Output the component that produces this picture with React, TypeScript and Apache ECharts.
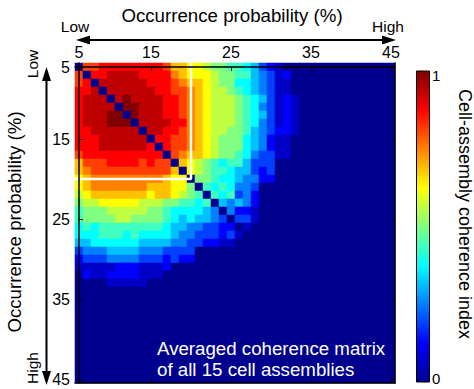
import React, { useEffect, useRef } from "react";
import * as echarts from "echarts";

// 40 x 40 averaged coherence matrix.
// Each character is a level 0..G (0..16), value = level / 16.
// Columns beyond those written are 0 (navy).
const matrixRows: string[] = [
  "0DDEEEEEEEEDBBAA988776532100",
  "D0EEFFFFEEEECBAAA98877543120",
  "DE0FFFFFFEEEDCBBA98866543110",
  "EEF0FFFFFFEEDDCBA99876543110",
  "EFFF0FGFFFFEEDCBA99987653121",
  "EFFFF0GGFFFEEDCBA99987643121",
  "EFFFGG0GFFFEEDCBA99987653121",
  "EFFFGGG0FFFFEECBA99987643121",
  "EEFFFFFF0FFEEDCBA99887543221",
  "EEEFFFFFF0EEDDCBA98886542110",
  "EEEFFFFFFE0EDDCBA98886542110",
  "DEEEEEEEEEE0DCBBA98876433110",
  "BDDDEEEEDEDD0BA9876775333000",
  "BCDDDDDDDDDDB0A9877655323000",
  "ABCCCCCCCCCBAA08876654422000",
  "ABCCCCCCCBBBAA80767644300000",
  "9ABBBBBBBABBA987076734200000",
  "899AAAAA999887767054542000000",
  "7888999998876666540422100000",
  "7888899888876565543033100000",
  "6767777777765544332201000000",
  "6667776766665443332310000000",
  "5566666655554433221100000000",
  "3444555544433330000000000000",
  "2333444433323220000000000000",
  "1111122211120000000000000000",
  "0211222211100000000000000000",
  "0000111110000000000000000000",
  "0",
  "0",
  "0",
  "0",
  "0",
  "0",
  "0",
  "0",
  "0",
  "0",
  "0",
  "0",
];

const categories: string[] = [
  "5", "6", "7", "8", "9", "10", "11", "12", "13", "14",
  "15", "16", "17", "18", "19", "20", "21", "22", "23", "24",
  "25", "26", "27", "28", "29", "30", "31", "32", "33", "34",
  "35", "36", "37", "38", "39", "40", "41", "42", "43", "45",
];
const tickIndices = [0, 9, 19, 29, 39];
const tickLabels = ["5", "15", "25", "35", "45"];

// white boundary of the first assembly block (column/row index 14)
const boundaryLine: [number, number][] = [
  [14, -0.5],
  [14, 14],
  [-0.5, 14],
];

const jetColors = [
  "#00008F",
  "#0000FF",
  "#0080FF",
  "#00FFFF",
  "#80FF80",
  "#FFFF00",
  "#FF8000",
  "#FF0000",
  "#800000",
];

const FONT = "'Liberation Sans', Arial, sans-serif";

function levelOf(ch: string): number {
  return parseInt(ch, 17);
}

export default function App() {
  const ref = useRef<HTMLDivElement>(null);

  useEffect(() => {
    if (!ref.current) return;
    const chart = echarts.init(ref.current, null, { renderer: "svg" });

    const data: [number, number, number][] = [];
    for (let r = 0; r < categories.length; r++) {
      const row = matrixRows[r].padEnd(categories.length, "0");
      for (let c = 0; c < categories.length; c++) {
        data.push([c, r, levelOf(row[c]) / 16]);
      }
    }

    const showTick = (i: number) => tickIndices.includes(i);
    const labelFmt = (_v: string, i: number) => tickLabels[tickIndices.indexOf(i)] ?? "";

    const baseCat = {
      type: "category" as const,
      data: categories,
      z: 10,
      axisLine: { show: true, lineStyle: { color: "#000", width: 1.5 } },
      axisTick: {
        show: true,
        inside: true,
        length: 4,
        alignWithLabel: true,
        interval: showTick,
        lineStyle: { color: "#000", width: 1 },
      },
      splitLine: { show: false },
    };

    // colour bar: top = 1 (dark red), bottom = 0 (navy)
    const n = jetColors.length - 1;
    const barStops = jetColors.map((_, i) => ({ offset: i / n, color: jetColors[n - i] }));

    chart.setOption({
      animation: false,
      backgroundColor: "#fff",
      textStyle: { fontFamily: FONT },
      grid: { left: 75, top: 63, width: 320, height: 320 },
      visualMap: {
        show: false,
        type: "continuous",
        min: 0,
        max: 1,
        dimension: 2,
        seriesIndex: 0,
        inRange: { color: jetColors },
      },
      xAxis: [
        {
          ...baseCat,
          position: "top",
          axisLabel: {
            show: true,
            interval: showTick,
            formatter: labelFmt,
            fontSize: 16,
            color: "#000",
            fontFamily: FONT,
            margin: 3,
          },
        },
        { ...baseCat, position: "bottom", axisLabel: { show: false } },
        { type: "value", min: -0.5, max: 39.5, show: false },
      ],
      yAxis: [
        {
          ...baseCat,
          inverse: true,
          position: "left",
          axisLabel: {
            show: true,
            interval: showTick,
            formatter: labelFmt,
            fontSize: 16,
            color: "#000",
            fontFamily: FONT,
            margin: 5,
          },
        },
        { ...baseCat, inverse: true, position: "right", axisLabel: { show: false } },
        { type: "value", min: -0.5, max: 39.5, inverse: true, show: false },
      ],
      series: [
        {
          type: "heatmap",
          xAxisIndex: 0,
          yAxisIndex: 0,
          data,
          silent: true,
          z: 2,
        },
        {
          type: "line",
          xAxisIndex: 2,
          yAxisIndex: 2,
          data: boundaryLine,
          symbol: "none",
          silent: true,
          z: 5,
          lineStyle: { color: "#fff", width: 2.5 },
        },
      ],
      graphic: [
        {
          type: "text",
          x: 232,
          y: 15,
          style: {
            text: "Occurrence probability (%)",
            font: `18.7px ${FONT}`,
            fill: "#000",
            align: "center",
            verticalAlign: "middle",
          },
        },
        { type: "line", shape: { x1: 88, y1: 40, x2: 384, y2: 40 }, style: { stroke: "#000", lineWidth: 2 } },
        { type: "polygon", shape: { points: [[76, 40], [90, 35.5], [90, 44.5]] }, style: { fill: "#000" } },
        { type: "polygon", shape: { points: [[396, 40], [382, 35.5], [382, 44.5]] }, style: { fill: "#000" } },
        {
          type: "text",
          x: 75,
          y: 26,
          style: { text: "Low", font: `15.5px ${FONT}`, fill: "#000", align: "center", verticalAlign: "middle" },
        },
        {
          type: "text",
          x: 388,
          y: 26,
          style: { text: "High", font: `15.5px ${FONT}`, fill: "#000", align: "center", verticalAlign: "middle" },
        },
        {
          type: "text",
          x: 14,
          y: 222,
          rotation: Math.PI / 2,
          style: {
            text: "Occurrence probability (%)",
            font: `18.7px ${FONT}`,
            fill: "#000",
            align: "center",
            verticalAlign: "middle",
          },
        },
        { type: "line", shape: { x1: 46.5, y1: 79, x2: 46.5, y2: 373 }, style: { stroke: "#000", lineWidth: 2 } },
        { type: "polygon", shape: { points: [[46.5, 67], [42, 81], [51, 81]] }, style: { fill: "#000" } },
        { type: "polygon", shape: { points: [[46.5, 385], [42, 371], [51, 371]] }, style: { fill: "#000" } },
        {
          type: "text",
          x: 32,
          y: 64,
          rotation: Math.PI / 2,
          style: { text: "Low", font: `15.5px ${FONT}`, fill: "#000", align: "center", verticalAlign: "middle" },
        },
        {
          type: "text",
          x: 32,
          y: 368,
          rotation: Math.PI / 2,
          style: { text: "High", font: `15.5px ${FONT}`, fill: "#000", align: "center", verticalAlign: "middle" },
        },
        {
          type: "text",
          x: 157,
          y: 348,
          z: 20,
          style: {
            text: "Averaged coherence matrix",
            font: `18.7px ${FONT}`,
            fill: "#fff",
            align: "left",
            verticalAlign: "middle",
          },
        },
        {
          type: "text",
          x: 157,
          y: 369,
          z: 20,
          style: {
            text: "of all 15 cell assemblies",
            font: `18.7px ${FONT}`,
            fill: "#fff",
            align: "left",
            verticalAlign: "middle",
          },
        },
        {
          type: "rect",
          shape: { x: 416.5, y: 71, width: 13, height: 311 },
          style: {
            fill: new echarts.graphic.LinearGradient(0, 0, 0, 1, barStops),
            stroke: "#000",
            lineWidth: 1,
          },
        },
        {
          type: "text",
          x: 432,
          y: 75,
          style: { text: "1", font: `15px ${FONT}`, fill: "#000", align: "left", verticalAlign: "middle" },
        },
        {
          type: "text",
          x: 432,
          y: 378,
          style: { text: "0", font: `15px ${FONT}`, fill: "#000", align: "left", verticalAlign: "middle" },
        },
        {
          type: "text",
          x: 465,
          y: 214,
          rotation: -Math.PI / 2,
          style: {
            text: "Cell-assembly coherence index",
            font: `18px ${FONT}`,
            fill: "#000",
            align: "center",
            verticalAlign: "middle",
          },
        },
      ],
    });

    return () => chart.dispose();
  }, []);

  return (
    <div
      ref={ref}
      style={{ position: "fixed", left: 0, top: 0, width: 474, height: 389, background: "#fff" }}
    />
  );
}
